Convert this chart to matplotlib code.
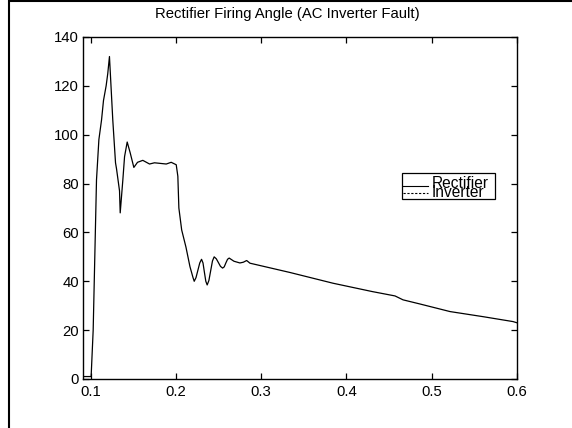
"""
Rectifier firing angle during an AC inverter fault, MATLAB-style plot.
"""
import matplotlib
matplotlib.use("Agg")
import matplotlib.pyplot as plt
from matplotlib.patches import Rectangle

plt.rcParams["font.family"] = ["Liberation Sans", "DejaVu Sans"]

# values
t = [0.0913, 0.1005, 0.1029, 0.1068, 0.1096, 0.1127, 0.1150, 0.1181, 0.1200,
     0.1220, 0.1259, 0.1291, 0.1303, 0.1338, 0.1346, 0.1377, 0.1397, 0.1428,
     0.1463, 0.1506, 0.1549, 0.1611, 0.1690, 0.1748, 0.1886, 0.1944, 0.2003,
     0.2022, 0.2034, 0.2067, 0.2117, 0.2164, 0.2200, 0.2214, 0.2235, 0.2257,
     0.2279, 0.2300, 0.2317, 0.2333, 0.2350, 0.2366, 0.2386, 0.2407, 0.2428,
     0.2448, 0.2473, 0.2497, 0.2522, 0.2547, 0.2566, 0.2585, 0.2605, 0.2624,
     0.2680, 0.2750, 0.2790, 0.2829, 0.2868, 0.3337, 0.3842, 0.4300, 0.4569,
     0.4663, 0.4862, 0.5214, 0.5604, 0.5953, 0.6000]
rectifier = [1, 1, 20, 81.5, 98, 106, 114, 120, 125,
             132, 106, 88.5, 86, 77, 68, 81.5, 91, 97,
             92.6, 86.6, 88.7, 89.5, 88, 88.5, 88, 88.7, 87.7,
             83, 70, 61, 54, 46, 41.5, 40, 41.5, 44.5,
             47.5, 49, 47.5, 43.8, 40, 38.5, 40.3, 44.3, 48.3,
             50, 49.2, 47.7, 46.1, 45.4, 45.9, 47.5, 49, 49.5,
             48.2, 47.5, 47.8, 48.5, 47.4, 43.6, 39.2, 35.8, 34,
             32.4, 30.7, 27.6, 25.5, 23.5, 23]

x_ticks = [0.1, 0.2, 0.3, 0.4, 0.5, 0.6]
y_ticks = [0, 20, 40, 60, 80, 100, 120, 140]
title = "Rectifier Firing Angle (AC Inverter Fault)"
legend_labels = ["Rectifier", "Inverter"]

fig = plt.figure(figsize=(5.72, 4.28), dpi=100)
ax = fig.add_axes([0.1456, 0.1145, 0.7583, 0.7991])

ax.plot(t, rectifier, color="black", linewidth=0.9)

ax.set_xlim(0.0913, 0.6)
ax.set_ylim(0, 140)
ax.set_xticks(x_ticks)
ax.set_xticklabels([f"{v:g}" for v in x_ticks])
ax.set_yticks(y_ticks)
ax.tick_params(direction="in", length=4, width=0.9, labelsize=10.7,
               top=True, right=True, colors="black")
ax.tick_params(axis="x", pad=4)
ax.tick_params(axis="y", pad=3)
for s in ax.spines.values():
    s.set_linewidth(1.0)

# legend drawn by hand: MATLAB packs the two rows tightly together
ax.add_patch(Rectangle((0.735, 0.526), 0.214, 0.076, transform=ax.transAxes,
                       facecolor="white", edgecolor="black", linewidth=0.9,
                       zorder=5))
ax.plot([0.7375, 0.795], [0.564, 0.564], transform=ax.transAxes,
        color="black", linewidth=0.8, zorder=6)
ax.plot([0.7375, 0.795], [0.545, 0.545], transform=ax.transAxes,
        color="black", linewidth=0.8, linestyle=(0, (2, 1.5)), zorder=6)
ax.text(0.804, 0.559, legend_labels[0], transform=ax.transAxes,
        fontsize=11.2, va="baseline", ha="left", zorder=7)
ax.text(0.804, 0.531, legend_labels[1], transform=ax.transAxes,
        fontsize=11.2, va="baseline", ha="left", zorder=7)

fig.text(287 / 572, 0.967, title, ha="center", va="center", fontsize=10.7)

# figure frame
fig.patches.append(Rectangle((0.015, -0.01), 0.99, 1.0075,
                             transform=fig.transFigure, fill=False,
                             edgecolor="black", linewidth=1.5))

fig.savefig("out.png", dpi=100)
